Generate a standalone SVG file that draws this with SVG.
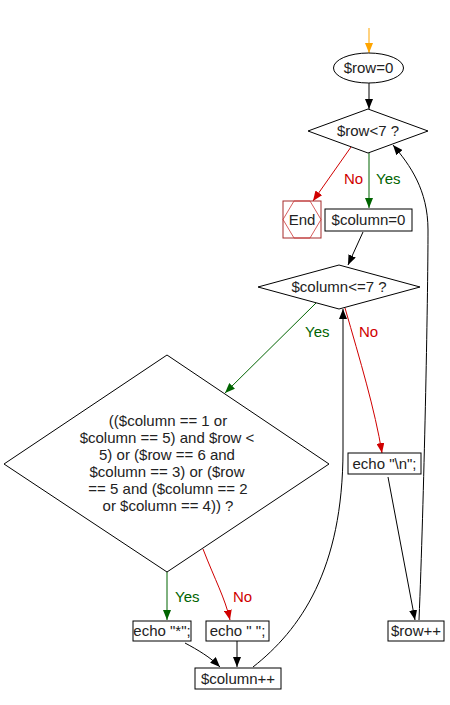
<svg xmlns="http://www.w3.org/2000/svg" width="450" height="705" viewBox="0 0 450 705">
<style>
text{font-family:"Liberation Sans",Arial,sans-serif;font-size:15px;fill:#222;text-anchor:middle}
.shape{fill:#fff;stroke:#000;stroke-width:1}
.k{fill:none;stroke:#000;stroke-width:1}
.g{fill:none;stroke:#006400;stroke-width:1}
.r{fill:none;stroke:#d00000;stroke-width:1}
.o{fill:none;stroke:#ffa500;stroke-width:1}
text.gl{fill:#006400;text-anchor:start}
text.rl{fill:#d00000;text-anchor:start}
</style>
<defs>
<marker id="ak" markerUnits="userSpaceOnUse" markerWidth="10" markerHeight="8" refX="10" refY="4" orient="auto"><path d="M0,0 L10,4 L0,8 z" fill="#000"/></marker>
<marker id="ag" markerUnits="userSpaceOnUse" markerWidth="10" markerHeight="8" refX="10" refY="4" orient="auto"><path d="M0,0 L10,4 L0,8 z" fill="#006400"/></marker>
<marker id="ar" markerUnits="userSpaceOnUse" markerWidth="10" markerHeight="8" refX="10" refY="4" orient="auto"><path d="M0,0 L10,4 L0,8 z" fill="#d00000"/></marker>
<marker id="ao" markerUnits="userSpaceOnUse" markerWidth="10" markerHeight="8" refX="10" refY="4" orient="auto"><path d="M0,0 L10,4 L0,8 z" fill="#ffa500"/></marker>
</defs>
<rect width="450" height="705" fill="#fff"/>
<g id="connectors">
<path class="o" d="M369,28 L369,53" marker-end="url(#ao)"/>
<path class="k" d="M369,83 L369,109" marker-end="url(#ak)"/>
<path class="g" d="M369,153 L369,208" marker-end="url(#ag)"/>
<path class="r" d="M351,147 L313,201" marker-end="url(#ar)"/>
<path class="k" d="M363,232 L348,265" marker-end="url(#ak)"/>
<path class="g" d="M316,303 L225,393" marker-end="url(#ag)"/>
<path class="r" d="M345,308 C360,360 375,410 382,453" marker-end="url(#ar)"/>
<path class="g" d="M167,572 L167,620" marker-end="url(#ag)"/>
<path class="r" d="M203,549 C215,580 225,598 230,620" marker-end="url(#ar)"/>
<path class="k" d="M185,643 C198,650 210,657 220,667" marker-end="url(#ak)"/>
<path class="k" d="M237,641 L237,667" marker-end="url(#ak)"/>
<path class="k" d="M253,667 C300,630 343,570 343,450 L343,309" marker-end="url(#ak)"/>
<path class="k" d="M388,477 L415,620" marker-end="url(#ak)"/>
<path class="k" d="M419,620 C424,500 428,300 428,230 C428,190 410,165 393,145" marker-end="url(#ak)"/>
<text class="rl" x="344" y="184">No</text>
<text class="gl" x="376" y="184">Yes</text>
<text class="gl" x="305" y="337">Yes</text>
<text class="rl" x="359" y="337">No</text>
<text class="gl" x="175" y="602">Yes</text>
<text class="rl" x="233" y="602">No</text>
</g>
<g id="start">
<ellipse class="shape" cx="368.5" cy="68" rx="35" ry="15"/>
<text x="368.5" y="73">$row=0</text>
</g>
<g id="cond_row">
<polygon class="shape" points="368,109 428,131 368,153 308,131"/>
<text x="368" y="136">$row&lt;7 ?</text>
</g>
<g id="end">
<rect x="283" y="201" width="38" height="37" fill="#fff" stroke="#a52a2a"/>
<polygon points="283,219.5 294,201 310,201 321,219.5 310,238 294,238" fill="none" stroke="#cc3333" stroke-width="0.8"/>
<text x="302" y="225">End</text>
</g>
<g id="col_init">
<rect class="shape" x="325" y="209" width="87" height="22"/>
<text x="368.5" y="225">$column=0</text>
</g>
<g id="cond_col">
<polygon class="shape" points="339,265 420,287 339,309 258,287"/>
<text x="339" y="292">$column&lt;=7 ?</text>
</g>
<g id="cond_big">
<polygon class="shape" points="167,355 329,464 167,572 4,464"/>
<text x="168" y="426">(($column == 1 or</text>
<text x="167" y="443">$column == 5) and $row &lt;</text>
<text x="167" y="460">5) or ($row == 6 and</text>
<text x="167" y="477">$column == 3) or ($row</text>
<text x="168" y="494">== 5 and ($column == 2</text>
<text x="168" y="511">or $column == 4)) ?</text>
</g>
<g id="echo_star">
<rect class="shape" x="133" y="621" width="58" height="20"/>
<text x="162" y="636">echo "*";</text>
</g>
<g id="echo_space">
<rect class="shape" x="206" y="621" width="63" height="20"/>
<text x="237.5" y="636">echo " ";</text>
</g>
<g id="col_inc">
<rect class="shape" x="195" y="668" width="86" height="21"/>
<text x="238" y="684">$column++</text>
</g>
<g id="echo_nl">
<rect class="shape" x="348" y="453" width="73" height="21"/>
<text x="384.5" y="469">echo "\n";</text>
</g>
<g id="row_inc">
<rect class="shape" x="388" y="621" width="56" height="20"/>
<text x="416" y="636">$row++</text>
</g>
</svg>
